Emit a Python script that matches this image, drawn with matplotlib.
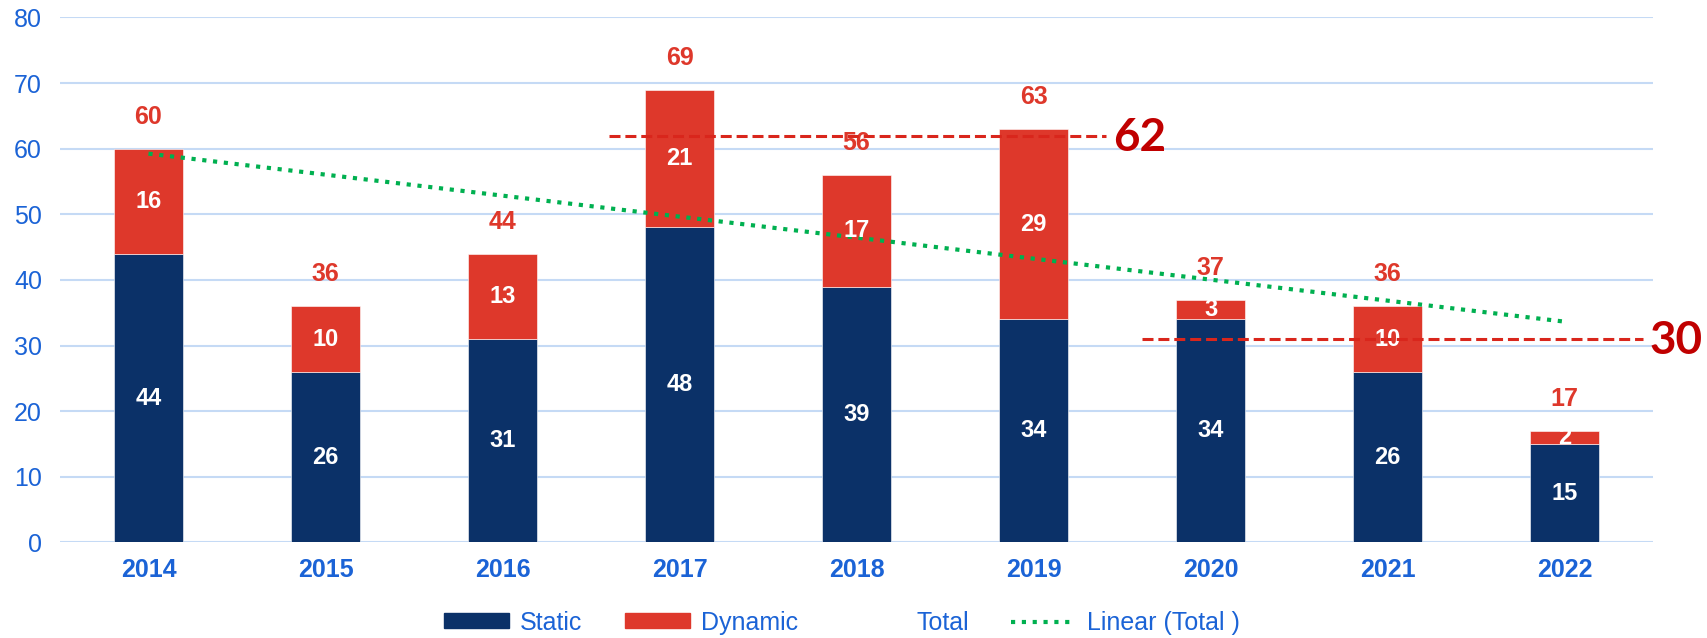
import numpy as np
import matplotlib.pyplot as plt
from matplotlib.patches import Patch
from matplotlib.lines import Line2D

# ============== data ===================
years   = ['2014', '2015', '2016', '2017', '2018', '2019', '2020', '2021', '2022']
static  = [44, 26, 31, 48, 39, 34, 34, 26, 15]
dynamic = [16, 10, 13, 21, 17, 29, 3, 10, 2]
total   = [60, 36, 44, 69, 56, 63, 37, 36, 17]

# reference levels drawn as dashed lines: (value, x start, x end)
ref_levels = [62, 31]
ref_labels = ['62', '30']
ref_spans  = [(2.6, 5.41), (5.61, 8.44)]

# ============== style ==================
navy  = '#0B3168'
red   = '#DE382B'
dred  = '#C00000'
green = '#00B050'
blue  = '#1B63D6'
grid  = '#C5DAF5'

plt.rcParams['font.family'] = ['Liberation Sans', 'DejaVu Sans']

fig = plt.figure(figsize=(17.08, 6.38), dpi=100)
ax = fig.add_axes([0.0351, 0.1497, 0.968 - 0.0351, 0.9727 - 0.1497])

x = np.arange(len(years))
w = 0.39

ax.bar(x, static, w, color=navy, edgecolor='white', linewidth=0.4, zorder=2)
ax.bar(x, dynamic, w, bottom=static, color=red, edgecolor='white', linewidth=0.4, zorder=2)

# segment labels
for i in range(len(years)):
    ax.text(x[i], static[i] / 2, str(static[i]), color='white', fontsize=17,
            fontweight='bold', ha='center', va='center', zorder=4)
    ax.text(x[i], static[i] + dynamic[i] / 2, str(dynamic[i]), color='white',
            fontsize=17, fontweight='bold', ha='center', va='center', zorder=4)
    ax.annotate(str(total[i]), (x[i], total[i]), xytext=(0, 23),
                textcoords='offset points', color=red, fontsize=18,
                fontweight='bold', ha='center', va='center')

# linear trend of totals
z = np.polyfit(x, total, 1)
fit = np.poly1d(z)
ax.plot(x, fit(x), color=green, linewidth=3, linestyle=(0, (1, 1.6)), zorder=3)

# dashed reference lines
for lvl, lab, (x0, x1) in zip(ref_levels, ref_labels, ref_spans):
    ax.plot([x0, x1], [lvl, lvl], color='#D9261C', linewidth=2.2,
            linestyle=(0, (3.6, 1.6)), zorder=5)
    ax.text(x1 + 0.04, lvl - 0.3, lab, color=dred, fontsize=33, fontweight='bold',
            family=['Lato', 'DejaVu Sans'], ha='left', va='center', clip_on=False)

ax.set_xlim(-0.5, 8.5)
ax.set_ylim(0, 80)
ax.set_yticks(range(0, 81, 10))
ax.set_xticks(x)
ax.set_xticklabels(years, fontweight='bold', fontsize=18, color=blue)
ax.tick_params(axis='y', length=0, labelsize=18, labelcolor=blue, pad=13)
ax.tick_params(axis='x', length=0, pad=11)
for s in ax.spines.values():
    s.set_visible(False)
ax.grid(axis='y', color=grid, linewidth=1.5, zorder=0)
ax.set_axisbelow(True)

handles = [Patch(color=navy), Patch(color=red),
           Line2D([], [], linestyle='none'),
           Line2D([], [], color=green, linewidth=3, linestyle=(0, (1, 1.6)))]
labels = ['Static', 'Dynamic', 'Total', 'Linear (Total )']
leg = fig.legend(handles, labels, loc='center', bbox_to_anchor=(0.493, 0.024),
                 ncol=4, frameon=False, fontsize=18, handlelength=2.6,
                 handleheight=0.55, handletextpad=0.44, columnspacing=1.7)
for t in leg.get_texts():
    t.set_color(blue)

fig.savefig('out.png', dpi=100)
